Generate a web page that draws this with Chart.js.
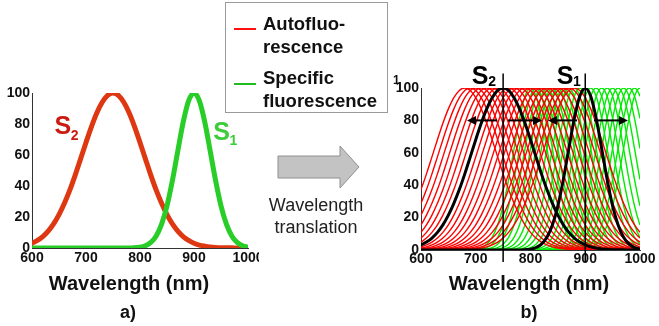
<!DOCTYPE html>
<html>
<head>
<meta charset="utf-8">
<script src="https://cdn.jsdelivr.net/npm/chart.js@4"></script>
<style>
  body { margin: 0; background: #fff; }
  #page { position: relative; width: 659px; height: 326px; overflow: hidden; font-family: "Liberation Sans", Arial, sans-serif; }
  canvas { position: absolute; }
  #chartA { left: 0; top: 80px; }
  #chartB { left: 390px; top: 60px; }
  .txt { position: absolute; white-space: nowrap; color: #111; }
  .title { font-weight: bold; font-size: 20px; transform: translate(-50%, -50%); }
  .tag { font-weight: bold; font-size: 18px; transform: translate(-50%, -50%); }
  #legend { position: absolute; left: 225px; top: 2px; width: 161px; height: 109px; border: 1px solid #9a9a9a; }
  .swatch { position: absolute; left: 8px; width: 22px; height: 2px; }
  .entry { position: absolute; left: 37px; font-weight: bold; font-size: 18.5px; line-height: 23px; color: #111; }
  .note { font-size: 18px; transform: translate(-50%, -50%); color: #222; }
</style>
</head>
<body>
<div id="page">
  <canvas id="chartA" width="259" height="190"></canvas>
  <canvas id="chartB" width="269" height="210"></canvas>

  <div id="legend">
    <div class="swatch" style="top:25px;background:#ff1010"></div>
    <div class="entry" style="top:9px">Autofluo-</div>
    <div class="entry" style="top:32px">rescence</div>
    <div class="swatch" style="top:80px;background:#22bb22"></div>
    <div class="entry" style="top:63px">Specific</div>
    <div class="entry" style="top:86px">fluorescence</div>
  </div>
  <div class="txt" style="left:393px;top:73px;font-weight:bold;font-size:12px">1</div>

  <svg style="position:absolute;left:0;top:0" width="659" height="326">
    <polygon points="278,156 340,156 340,146 359,167 340,188 340,178 278,178"
             fill="#c3c3c3" stroke="#8f8f8f" stroke-width="1"/>
  </svg>
  <div class="txt note" style="left:316px;top:205px">Wavelength</div>
  <div class="txt note" style="left:316px;top:227px">translation</div>

  <div class="txt title" style="left:129px;top:283px">Wavelength (nm)</div>
  <div class="txt tag" style="left:128px;top:312px">a)</div>
  <div class="txt title" style="left:529px;top:283px">Wavelength (nm)</div>
  <div class="txt tag" style="left:529px;top:312px">b)</div>
</div>

<script>
// spectra sampled every 10 nm
const wavelengths = [
  500, 510, 520, 530, 540, 550, 560, 570, 580, 590,
  600, 610, 620, 630, 640, 650, 660, 670, 680, 690,
  700, 710, 720, 730, 740, 750, 760, 770, 780, 790,
  800, 810, 820, 830, 840, 850, 860, 870, 880, 890,
  900, 910, 920, 930, 940, 950, 960, 970, 980, 990, 1000
];
// S2: autofluorescence, peak at 750 nm
const autofluorescence = [
  0, 0, 0, 0.1, 0.1, 0.2, 0.4, 0.7, 1.2, 1.9,
  3.1, 4.9, 7.4, 10.9, 15.5, 21.5, 28.8, 37.3, 47.0, 57.5,
  68.1, 78.2, 87.1, 94.0, 98.5, 100, 98.5, 94.0, 87.1, 78.2,
  68.1, 57.5, 47.0, 37.3, 28.8, 21.5, 15.5, 10.9, 7.4, 4.9,
  3.1, 1.9, 1.2, 0.7, 0.4, 0.2, 0.1, 0.1, 0, 0, 0
];
// S1: specific fluorescence, peak at 900 nm
const specificFluo = [
  0, 0, 0, 0, 0, 0, 0, 0, 0, 0,
  0, 0, 0, 0, 0, 0, 0, 0, 0, 0,
  0, 0, 0, 0, 0, 0, 0, 0, 0, 0.2,
  0.5, 1.5, 3.6, 7.8, 15.4, 27.2, 43.5, 62.6, 81.2, 94.9,
  100, 94.9, 81.2, 62.6, 43.5, 27.2, 15.4, 7.8, 3.6, 1.5, 0.5
];
const s2Peak = 750;
const s1Peak = 900;
// translated peak positions
const autoPeaks = [680, 690, 700, 710, 720, 730, 740, 750, 760, 770, 780,
                   790, 800, 810, 820, 830, 840, 850, 860, 870, 880];
const specificPeaks = [800, 810, 820, 830, 840, 850, 860, 870, 880, 890, 900,
                       910, 920, 930, 940, 950, 960, 970, 980, 990, 1000];
// translation arrows (tail, head) at the 80 level
const arrowTails = [739, 759, 885, 916];
const arrowHeads = [684, 821, 832, 978];
const arrowLevel = 80;
const xTicks = [600, 700, 800, 900, 1000];
const yTicks = [0, 20, 40, 60, 80, 100];

Chart.defaults.font.family = '"Liberation Sans", Arial, sans-serif';
Chart.defaults.color = '#111';

// spectrum moved along the wavelength axis so its peak sits at `peak`
function shifted(values, center, peak) {
  return wavelengths.map((w, i) => ({ x: w + peak - center, y: values[i] }));
}

function curve(data, color, width, order) {
  return {
    data: data, borderColor: color, borderWidth: width, order: order,
    pointRadius: 0, fill: false, cubicInterpolationMode: 'monotone'
  };
}

function axes(yWidth, xHeight, xPad) {
  return {
    x: {
      type: 'linear', min: 600, max: 1000,
      grid: { display: false, drawTicks: false },
      border: { display: true, color: '#333', width: 1 },
      afterBuildTicks: s => { s.ticks = xTicks.map(v => ({ value: v })); },
      afterFit: s => { s.height = xHeight; s.paddingLeft = 0; s.paddingRight = 0; },
      ticks: {
        font: { size: 14, weight: 'bold' }, padding: xPad, maxRotation: 0, autoSkip: false,
        callback: v => String(v)
      }
    },
    y: {
      min: 0, max: 100,
      grid: { display: false, drawTicks: false },
      border: { display: true, color: '#333', width: 1 },
      afterBuildTicks: s => { s.ticks = yTicks.map(v => ({ value: v })); },
      afterFit: s => { s.width = yWidth; s.paddingTop = 0; s.paddingBottom = 0; },
      ticks: { font: { size: 14, weight: 'bold' }, padding: 2, callback: v => String(v) }
    }
  };
}

// S labels, marker lines and arrows drawn on top of the curves
const overlay = {
  id: 'overlay',
  afterDatasetsDraw(chart, args, opts) {
    const { ctx, scales: { x, y } } = chart;
    ctx.save();
    (opts.markers || []).forEach(m => {
      const px = x.getPixelForValue(m);
      ctx.strokeStyle = '#000';
      ctx.lineWidth = 1.5;
      ctx.beginPath();
      ctx.moveTo(px, y.getPixelForValue(109));
      ctx.lineTo(px, y.bottom + 12);
      ctx.stroke();
    });
    (opts.arrows || []).forEach(a => {
      const x0 = x.getPixelForValue(a.from), x1 = x.getPixelForValue(a.to);
      const py = y.getPixelForValue(a.level);
      const dir = Math.sign(x1 - x0);
      ctx.strokeStyle = '#000';
      ctx.fillStyle = '#000';
      ctx.lineWidth = 2;
      ctx.beginPath();
      ctx.moveTo(x0, py);
      ctx.lineTo(x1 - dir * 6, py);
      ctx.stroke();
      ctx.beginPath();
      ctx.moveTo(x1, py);
      ctx.lineTo(x1 - dir * 9, py - 4.5);
      ctx.lineTo(x1 - dir * 9, py + 4.5);
      ctx.closePath();
      ctx.fill();
    });
    (opts.labels || []).forEach(l => {
      const px = x.getPixelForValue(l.x), py = y.getPixelForValue(l.y);
      ctx.fillStyle = l.color;
      ctx.textBaseline = 'middle';
      ctx.textAlign = 'center';
      ctx.font = 'bold 25px "Liberation Sans", Arial, sans-serif';
      ctx.fillText('S', px, py);
      ctx.textAlign = 'left';
      ctx.font = 'bold 14px "Liberation Sans", Arial, sans-serif';
      ctx.fillText(l.sub, px + 8, py + l.drop);
    });
    ctx.restore();
  }
};

new Chart(document.getElementById('chartA'), {
  type: 'line',
  data: {
    datasets: [
      curve(shifted(autofluorescence, s2Peak, s2Peak), 'rgb(222,56,18)', 5, 1),
      curve(shifted(specificFluo, s1Peak, s1Peak), 'rgb(40,205,40)', 5, 0)
    ]
  },
  options: {
    responsive: false, animation: false, devicePixelRatio: 1,
    layout: { padding: { left: 0, top: 13, right: 11, bottom: 0 } },
    scales: axes(32, 22, 2),
    plugins: {
      legend: { display: false }, tooltip: { enabled: false },
      overlay: {
        labels: [
          { x: 657, y: 78, sub: '2', drop: 9, color: '#cc1a12' },
          { x: 951, y: 74, sub: '1', drop: 8, color: '#3ccc3c' }
        ]
      }
    }
  },
  plugins: [overlay]
});

const translated = [];
autoPeaks.forEach(p => translated.push(curve(shifted(autofluorescence, s2Peak, p), 'rgb(255,0,0)', 1.4, 1)));
specificPeaks.forEach(p => translated.push(curve(shifted(specificFluo, s1Peak, p), 'rgb(0,235,0)', 1.4, 2)));
translated.push(curve(shifted(autofluorescence, s2Peak, s2Peak), '#000', 3, 0));
translated.push(curve(shifted(specificFluo, s1Peak, s1Peak), '#000', 3, 0));

new Chart(document.getElementById('chartB'), {
  type: 'line',
  data: { datasets: translated },
  options: {
    responsive: false, animation: false, devicePixelRatio: 1,
    layout: { padding: { left: 0, top: 28, right: 19, bottom: 0 } },
    scales: axes(31, 20, 1),
    plugins: {
      legend: { display: false }, tooltip: { enabled: false },
      overlay: {
        markers: [s2Peak, s1Peak],
        arrows: arrowTails.map((t, i) => ({ from: t, to: arrowHeads[i], level: arrowLevel })),
        labels: [
          { x: 708, y: 107, sub: '2', drop: 5, color: '#000' },
          { x: 863, y: 107, sub: '1', drop: 5, color: '#000' }
        ]
      }
    }
  },
  plugins: [overlay]
});
</script>
</body>
</html>
